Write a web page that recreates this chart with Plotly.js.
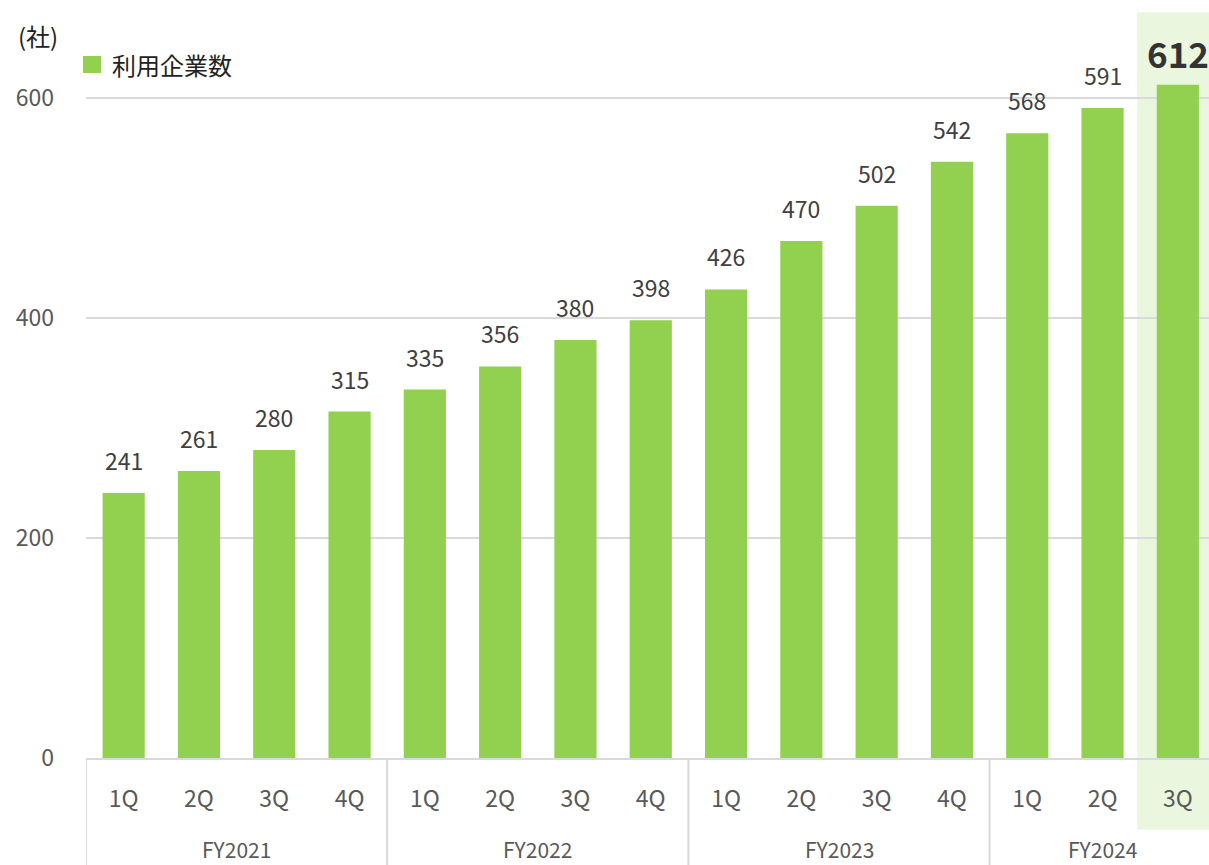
<!DOCTYPE html>
<html>
<head>
<meta charset="utf-8">
<script src="https://cdn.plot.ly/plotly-3.0.1.min.js"></script>
<style>html,body{margin:0;padding:0;background:#fff;}#chart{width:1209px;height:865px;}</style>
</head>
<body>
<div id="chart"></div>
<script>
const fiscalYears = ["FY2021","FY2021","FY2021","FY2021","FY2022","FY2022","FY2022","FY2022","FY2023","FY2023","FY2023","FY2023","FY2024","FY2024","FY2024"];
const quarters = ["1Q","2Q","3Q","4Q","1Q","2Q","3Q","4Q","1Q","2Q","3Q","4Q","1Q","2Q","3Q"];
const companies = [241,261,280,315,335,356,380,398,426,470,502,542,568,591,612];
const seriesName = "利用企業数";
const unitLabel = "(社)";
const yTicks = [0,200,400,600];

const FONT = '"Noto Sans CJK JP", "Noto Sans", sans-serif';
const GREEN = '#92d050';
const GRID = '#d9d9d9';
const idx = companies.map((_, i) => i);
const last = companies.length - 1;

// group boundaries
const groups = [];
fiscalYears.forEach((fy, i) => {
  if (!groups.length || groups[groups.length-1].name !== fy) groups.push({name: fy, start: i, end: i});
  else groups[groups.length-1].end = i;
});

const shapes = [
  {type:'rect', layer:'below', xref:'x', yref:'paper', x0:last-0.54, x1:last+0.6, y0:-0.096, y1:0.997,
   fillcolor:'#ebf6df', line:{width:0}}
];
groups.forEach(g => {
  shapes.push({type:'line', xref:'x', yref:'paper', x0:g.start-0.5, x1:g.start-0.5, y0:0, y1:-0.145,
    line:{color:GRID, width:2}});
});
// legend swatch
shapes.push({type:'rect', xref:'paper', yref:'paper', x0:-0.0027, x1:0.0134, y0:0.9158, y1:0.9385,
  fillcolor:GREEN, line:{width:0}});

const annotations = [];
companies.forEach((v, i) => {
  const hi = i === last;
  annotations.push({x:i, y:v, xref:'x', yref:'y', text:String(v), showarrow:false,
    yanchor:'middle', yshift: hi ? 32 : 33,
    font:{family:FONT, size: hi ? 35 : 23, color: hi ? '#333333' : '#404040', weight: hi ? 600 : 400}});
});
groups.forEach(g => {
  annotations.push({x:(g.start+g.end)/2, y:-0.1215, xref:'x', yref:'paper', text:g.name, showarrow:false,
    yanchor:'middle', font:{family:FONT, size:21, color:'#595959'}});
});
annotations.push({x:0.0214, y:0.9265, xref:'paper', yref:'paper', text:seriesName, showarrow:false,
  xanchor:'left', yanchor:'middle', font:{family:FONT, size:24, color:'#222222'}});
annotations.push({x:-0.0625, y:0.966, xref:'paper', yref:'paper', text:unitLabel, showarrow:false,
  xanchor:'left', yanchor:'middle', font:{family:FONT, size:24, color:'#222222'}});

const trace = {
  type:'bar', x:idx, y:companies, name:seriesName,
  marker:{color:GREEN, line:{width:0}}, hoverinfo:'skip'
};

const layout = {
  width:1209, height:865,
  margin:{l:86, r:0, t:10, b:107},
  paper_bgcolor:'#ffffff', plot_bgcolor:'rgba(0,0,0,0)',
  showlegend:false, bargap:0.44,
  font:{family:FONT},
  xaxis:{range:[-0.5, -0.5 + 1123/75.3], tickmode:'array', tickvals:idx, ticktext:quarters,
    showgrid:false, zeroline:false, showline:true, linecolor:GRID, linewidth:2,
    ticks:'', ticklabelstandoff:19, tickfont:{family:FONT, size:23, color:'#595959'}, fixedrange:true},
  yaxis:{range:[0,680], tickmode:'array', tickvals:yTicks, showgrid:true, gridcolor:GRID, gridwidth:2,
    zeroline:false, showline:false, ticks:'', ticklabelstandoff:31,
    tickfont:{family:FONT, size:23, color:'#595959'}, fixedrange:true},
  shapes:shapes, annotations:annotations
};

Plotly.newPlot('chart', [trace], layout, {displayModeBar:false, staticPlot:true});
</script>
</body>
</html>
